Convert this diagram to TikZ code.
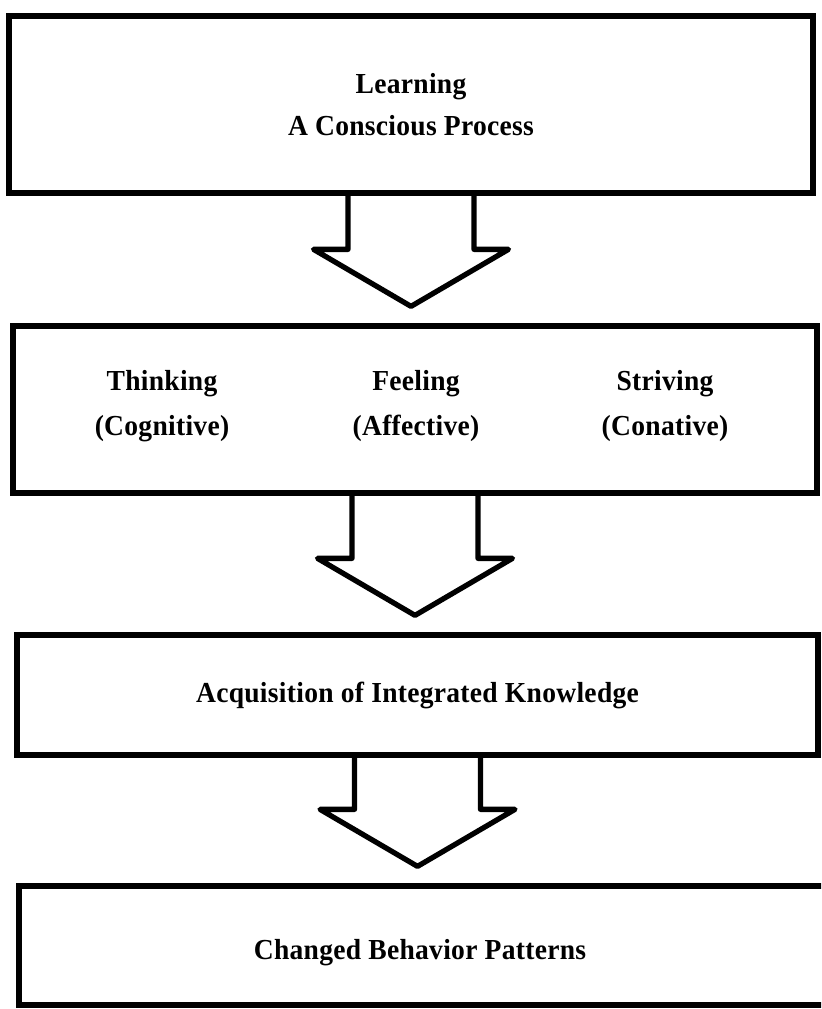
\documentclass[tikz,border=0pt]{standalone}
\usepackage{fontspec}
\setmainfont{Liberation Serif}[FakeStretch=0.95,LetterSpace=1]
\usetikzlibrary{calc}
\tikzset{
  box/.style        ={draw=black,line width=3pt,fill=white,inner sep=0pt},
  blockarrow/.style ={draw=black,line width=3pt,line join=round},
  lbl/.style        ={font=\fontsize{16.5}{24}\selectfont\bfseries,align=center},
}

\begin{document}
\begin{tikzpicture}
\useasboundingbox (0,0) rectangle (16.42,-20.18);
\clip (0,0) rectangle (16.42,-20.18);
\newcommand{\flowarrow}[2]{\draw[blockarrow] let \p1=(#1.south), \p2=(#2.north) in
  (\x1-1.26cm,\y1) -- (\x1-1.26cm,\y2+1.48cm) -- (\x1-1.95cm,\y2+1.48cm) -- (\x1,\y2+0.34cm)
  -- (\x1+1.95cm,\y2+1.48cm) -- (\x1+1.26cm,\y2+1.48cm) -- (\x1+1.26cm,\y1);}

\node[box,lbl,minimum width=16.08cm,minimum height=3.54cm] (learn) at (8.22,-2.09)
  {Learning\\A Conscious Process};
\node[box,minimum width=16.08cm,minimum height=3.34cm] (domains) at (8.30,-8.19) {};
\node[box,lbl,minimum width=16.02cm,minimum height=2.40cm] (knowledge) at (8.35,-13.90)
  {Acquisition of Integrated Knowledge};
\node[box,minimum width=16.5cm,minimum height=2.38cm] (behavior) at (8.63,-18.91) {};

% the three domains
\foreach \x/\name/\txt in {3.24/think/{Thinking\\[2pt](Cognitive)},
                           8.32/feel/{Feeling\\[2pt](Affective)},
                           13.30/strive/{Striving\\[2pt](Conative)}}
  { \node[lbl] (\name) at (\x,-8.12) {\txt}; }
\node[lbl] (behaviortxt) at (8.40,-19.06) {Changed Behavior Patterns};

\flowarrow{learn}{domains}
\flowarrow{domains}{knowledge}
\flowarrow{knowledge}{behavior}
\end{tikzpicture}
\end{document}
